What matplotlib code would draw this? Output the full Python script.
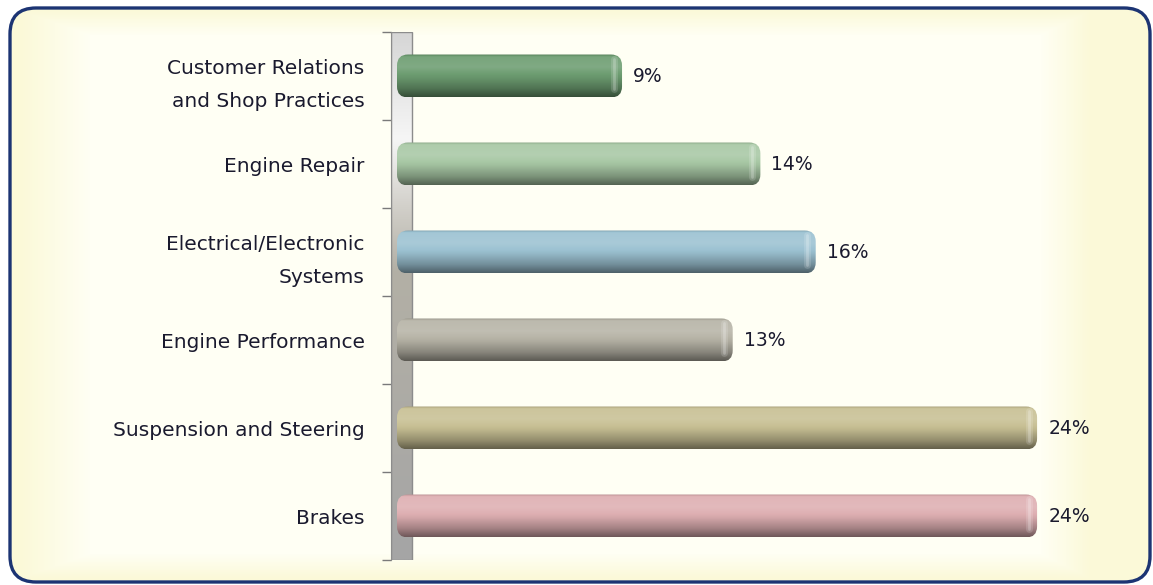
import numpy as np
import matplotlib
matplotlib.use("Agg")
import matplotlib.pyplot as plt
from matplotlib.patches import FancyBboxPatch, Rectangle
from matplotlib.colors import to_rgb

# data (bottom to top)
categories = ["Brakes", "Suspension and Steering", "Engine Performance",
              "Electrical/Electronic\nSystems", "Engine Repair",
              "Customer Relations\nand Shop Practices"]
values = [24, 24, 13, 16, 14, 9]
value_labels = ["24%", "24%", "13%", "16%", "14%", "9%"]
bar_colors = ["#deafb2", "#c8c094", "#b7b4a7", "#9cc2d2", "#a8c8a5", "#6d9d71"]

W, H = 1153, 585
fig = plt.figure(figsize=(W / 100, H / 100), dpi=100)

# ---- background with rounded frame ----
bg = fig.add_axes([0, 0, 1, 1])
bg.set_xlim(0, W)
bg.set_ylim(H, 0)
bg.axis("off")

xx, yy = np.meshgrid(np.arange(W), np.arange(H))
inner = np.clip(np.minimum.reduce([(xx - 20) / 70, (1090 - xx) / 50,
                                   (yy - 10) / 25, (578 - yy) / 25]), 0, 1)
edge_c = np.array(to_rgb("#fbf9d8"))
mid_c = np.array(to_rgb("#fffff4"))
bg_img = edge_c + (mid_c - edge_c) * inner[..., None]

frame = FancyBboxPatch((10, 8), 1140, 574, boxstyle="round,pad=0,rounding_size=26",
                       facecolor="none", edgecolor="#1c3473", linewidth=2.4, zorder=5)
bg.add_patch(frame)
im = bg.imshow(bg_img, extent=(0, W, H, 0), aspect="auto", zorder=0)
im.set_clip_path(frame)

# ---- main axes ----
ax_left, ax_right, ax_top, ax_bottom = 391, 1140, 32, 560
ax = fig.add_axes([ax_left / W, (H - ax_bottom) / H,
                   (ax_right - ax_left) / W, (ax_bottom - ax_top) / H])
ax.set_facecolor("none")

px_per_x = 27.67
zero_px = 373
xmin = (ax_left - zero_px) / px_per_x
xmax = (ax_right - zero_px) / px_per_x
px_per_y = (ax_bottom - ax_top) / len(categories)

wall_right = (412 - zero_px) / px_per_x
bar_start = (397 - zero_px) / px_per_x

# wall gradient
stops = [(0.0, "#d6d6d6"), (0.2, "#f6f6f6"), (0.33, "#d2d0ca"),
         (0.45, "#b3b0a6"), (1.0, "#a5a5a5")]
t = np.linspace(0, 1, 200)
wall_col = np.stack([np.interp(t, [s[0] for s in stops], [to_rgb(s[1])[i] for s in stops])
                     for i in range(3)], axis=-1)
wall_img = np.repeat(wall_col[:, None, :], 2, axis=1)
ax.imshow(wall_img, extent=(xmin, wall_right, -0.5, len(categories) - 0.5),
          aspect="auto", zorder=1)
ax.add_patch(Rectangle((xmin, -0.5), wall_right - xmin, len(categories),
                       facecolor="none", edgecolor="#8c8c8c", linewidth=1.0, zorder=2))

# bars with cylinder shading
bar_h = 43 / px_per_y
radius = 11 / px_per_x
aspect = px_per_x / px_per_y
prof_t = [0.0, 0.06, 0.3, 0.55, 0.8, 1.0]
prof_f = [0.82, 1.06, 1.1, 0.95, 0.74, 0.5]
tt = np.linspace(0, 1, 100)
ff = np.interp(tt, prof_t, prof_f)
for i, (v, c) in enumerate(zip(values, bar_colors)):
    base = np.array(to_rgb(c))
    rows = []
    for f in ff:
        if f >= 1:
            rows.append(base + (1 - base) * (f - 1) * 1.3)
        else:
            rows.append(base * f)
    grad = np.clip(np.array(rows), 0, 1)[:, None, :]
    patch = FancyBboxPatch((bar_start, i - bar_h / 2), v - bar_start, bar_h,
                           boxstyle=f"round,pad=0,rounding_size={radius}",
                           mutation_aspect=aspect, facecolor="none",
                           edgecolor="none", zorder=3)
    ax.add_patch(patch)
    gim = ax.imshow(grad, extent=(bar_start, v, i - bar_h / 2, i + bar_h / 2),
                    aspect="auto", zorder=3)
    gim.set_clip_path(patch)
    for off, a, lw in [(0.3, 0.15, 5), (0.3, 0.22, 2)]:
        hl = ax.plot([v - off, v - off], [i - bar_h * 0.3, i + bar_h * 0.4],
                     color="white", alpha=a, linewidth=lw, zorder=4,
                     solid_capstyle="round")[0]
        hl.set_clip_path(patch)
    ax.text(v + 0.4, i, value_labels[i], va="center", ha="left",
            fontsize=13.5, color="#1a1a2e", zorder=5)

ax.set_xlim(xmin, xmax)
ax.set_ylim(-0.5, len(categories) - 0.5)

# axes styling
for s in ["top", "right", "bottom"]:
    ax.spines[s].set_visible(False)
ax.spines["left"].set_color("#8c8c8c")
ax.spines["left"].set_zorder(2)
ax.set_xticks([])
ax.set_yticks(range(len(categories)))
ax.set_yticklabels(categories, fontsize=14.5, color="#1a1a2e", linespacing=1.95)
ax.tick_params(axis="y", which="major", length=0, pad=19)
ax.set_yticks(np.arange(-0.5, len(categories)), minor=True)
ax.tick_params(axis="y", which="minor", length=6.5, color="#7a7a7a", width=1)

fig.savefig("out.png", dpi=100)
